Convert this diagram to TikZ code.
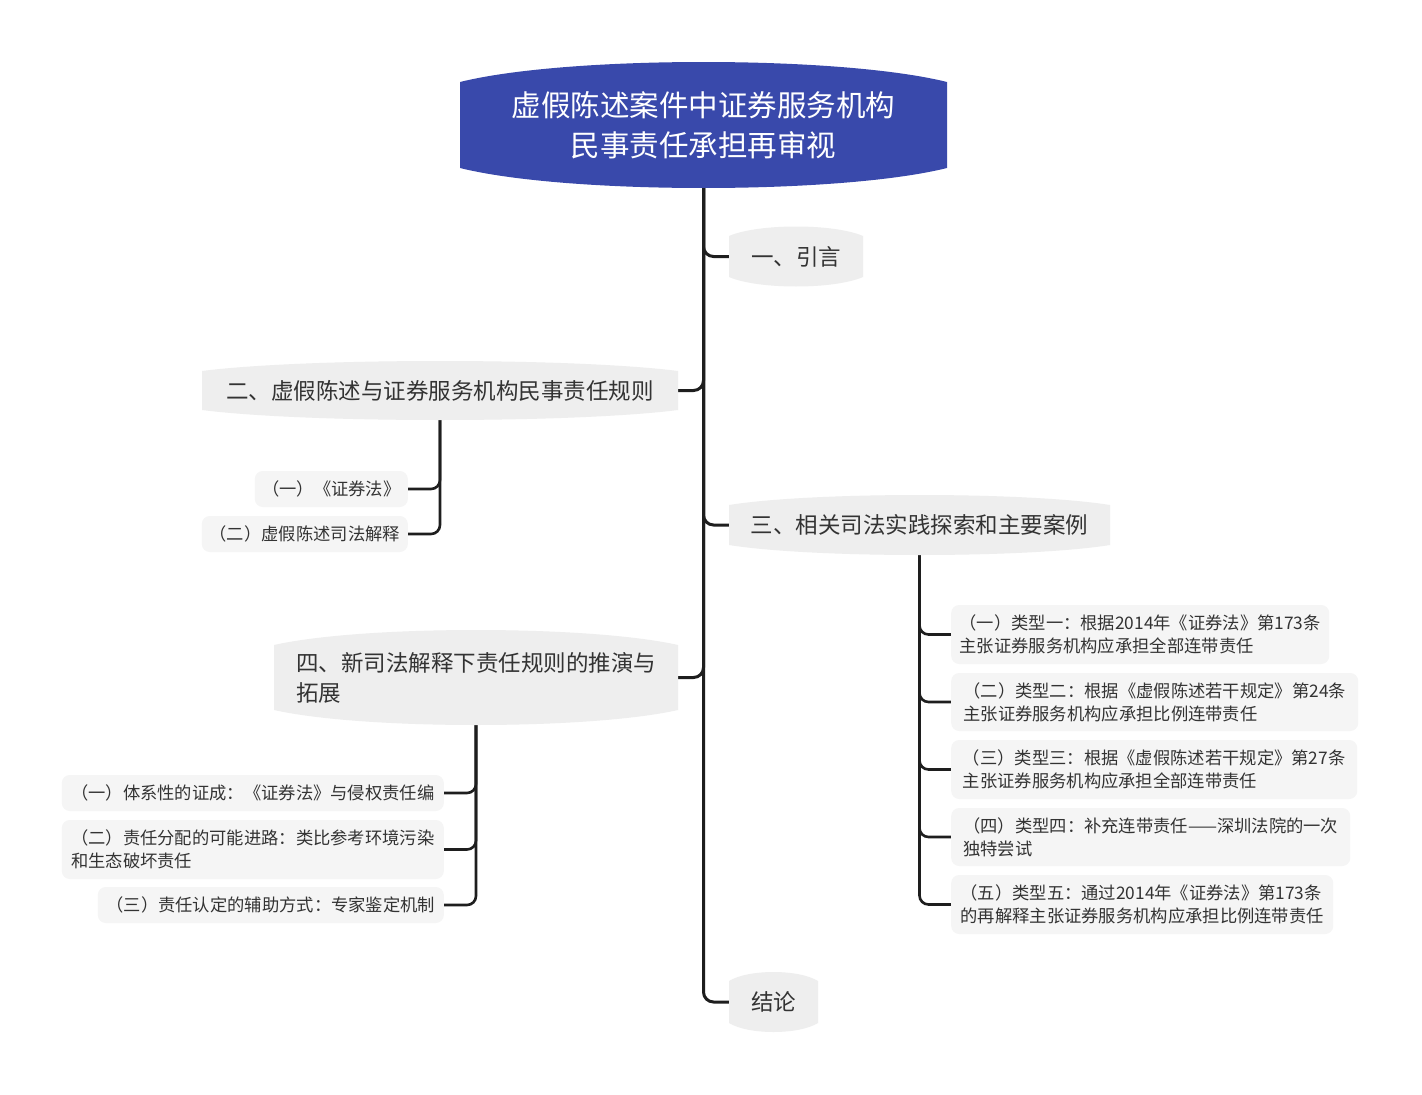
\documentclass[tikz,border=0pt]{standalone}
\usepackage{fontspec}
\newfontfamily\cjk{Noto Sans CJK SC}
\usetikzlibrary{backgrounds}
\definecolor{rootblue}{HTML}{3949AB}
\definecolor{brgray}{HTML}{EEEEEE}
\definecolor{leafgray}{HTML}{F5F5F5}
\definecolor{txt}{HTML}{333333}
\definecolor{linec}{HTML}{1E1E1E}
\newcommand\bulgebox[6]{%
 \fill[#6] (#1,#3) .. controls ({#1+0.22*(#2-#1)},{#3-1.333*#5}) and ({#2-0.22*(#2-#1)},{#3-1.333*#5}) .. (#2,#3) -- (#2,#4) .. controls ({#2-0.22*(#2-#1)},{#4+1.333*#5}) and ({#1+0.22*(#2-#1)},{#4+1.333*#5}) .. (#1,#4) -- cycle;}
\tikzset{
 roottext/.style={text=white, align=center, inner sep=0pt, font=\cjk\fontsize{29.5}{40}\selectfont},
 brtext/.style={text=txt, align=left, inner sep=0pt, font=\cjk\fontsize{22.5}{30}\selectfont},
 leaf/.style={fill=leafgray, rounded corners=8pt, text=txt, align=left, inner xsep=7pt, inner ysep=4pt, font=\cjk\fontsize{17.3}{23}\selectfont},
 trunk/.style={draw=linec, line width=3pt, rounded corners=10pt},
 conn/.style={draw=linec, line width=2.6pt, rounded corners=9pt},
}
\begin{document}
\begin{tikzpicture}[x=1pt,y=-1pt]
\useasboundingbox (0,0) rectangle (1422,1095);
% shapes
\bulgebox{460}{947}{82}{168}{20}{rootblue}
\bulgebox{729}{863}{236}{277}{9.5}{brgray}
\bulgebox{202}{678}{371}{410}{10}{brgray}
\bulgebox{729}{1110}{505}{545}{10}{brgray}
\bulgebox{274}{678}{645}{710}{15}{brgray}
\bulgebox{729}{818}{981}{1023}{9}{brgray}
% root and branches
\node[roottext, minimum width=487, minimum height=86] (root) at (703.5,125) {虚假陈述案件中证券服务机构\\民事责任承担再审视};
\node[brtext, minimum width=134, minimum height=41] (b1) at (796,256.5) {一、引言};
\node[brtext, minimum width=476, minimum height=39] (b2) at (440,390.5) {二、虚假陈述与证券服务机构民事责任规则};
\node[brtext, minimum width=381, minimum height=40] (b3) at (919.5,525) {三、相关司法实践探索和主要案例};
\node[brtext, minimum width=404, minimum height=65] (b4) at (476,677.5) {四、新司法解释下责任规则的推演与\\拓展};
\node[brtext, minimum width=89, minimum height=42] (b5) at (773.5,1002) {结论};
% leaves
\node[leaf, minimum width=153, minimum height=36, anchor=east] (l21) at (408,489) {（一）《证券法》};
\node[leaf, minimum width=206, minimum height=36, anchor=east] (l22) at (408,534) {（二）虚假陈述司法解释};
\node[leaf, minimum width=378, minimum height=59, anchor=west] (l31) at (951,634.5) {（一）类型一：根据2014年《证券法》第173条\\主张证券服务机构应承担全部连带责任};
\node[leaf, minimum width=407, minimum height=58, anchor=west] (l32) at (951,702) {（二）类型二：根据《虚假陈述若干规定》第24条\\主张证券服务机构应承担比例连带责任};
\node[leaf, minimum width=406, minimum height=59, anchor=west] (l33) at (951,769.5) {（三）类型三：根据《虚假陈述若干规定》第27条\\主张证券服务机构应承担全部连带责任};
\node[leaf, minimum width=399, minimum height=58, anchor=west] (l34) at (951,837) {（四）类型四：补充连带责任——深圳法院的一次\\独特尝试};
\node[leaf, minimum width=382, minimum height=59, anchor=west] (l35) at (951,904.5) {（五）类型五：通过2014年《证券法》第173条\\的再解释主张证券服务机构应承担比例连带责任};
\node[leaf, minimum width=382, minimum height=36, anchor=east] (l41) at (444,793) {（一）体系性的证成：《证券法》与侵权责任编};
\node[leaf, minimum width=382, minimum height=59, anchor=east] (l42) at (444,849.5) {（二）责任分配的可能进路：类比参考环境污染\\和生态破坏责任};
\node[leaf, minimum width=346, minimum height=36, anchor=east] (l43) at (444,905) {（三）责任认定的辅助方式：专家鉴定机制};
% connectors
\begin{scope}[on background layer]
\fill[white] (0,0) rectangle (1422,1095);
\draw[trunk] (root.south) |- (b1.west);
\draw[trunk] (root.south) |- (b2.east);
\draw[trunk] (root.south) |- (b3.west);
\draw[trunk] (root.south) |- (b4.east);
\draw[trunk] (root.south) |- (b5.west);
\draw[conn] (b2.south) |- (l21.east);
\draw[conn] (b2.south) |- (l22.east);
\draw[conn] (b3.south) |- (l31.west);
\draw[conn] (b3.south) |- (l32.west);
\draw[conn] (b3.south) |- (l33.west);
\draw[conn] (b3.south) |- (l34.west);
\draw[conn] (b3.south) |- (l35.west);
\draw[conn] (b4.south) |- (l41.east);
\draw[conn] (b4.south) |- (l42.east);
\draw[conn] (b4.south) |- (l43.east);
\end{scope}
\end{tikzpicture}
\end{document}
